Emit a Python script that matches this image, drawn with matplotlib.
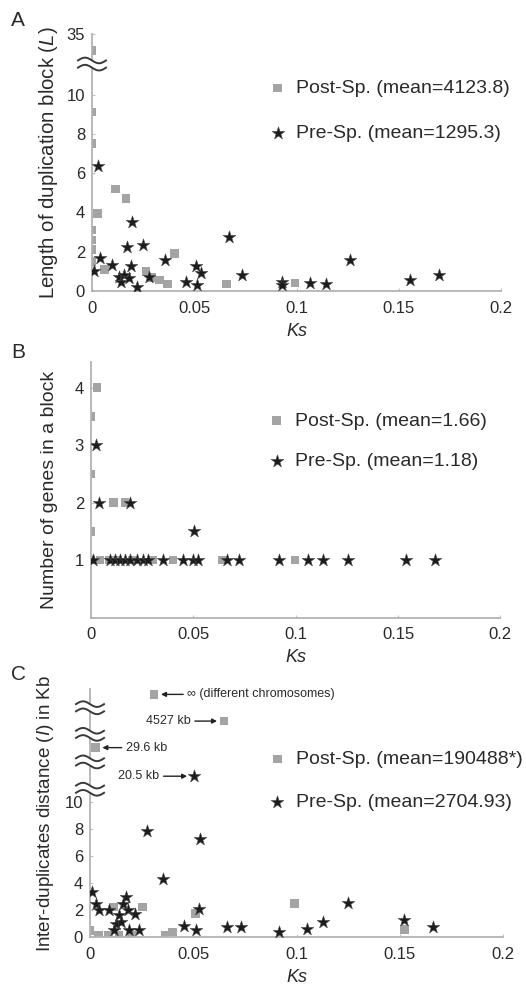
import numpy as np
import matplotlib
matplotlib.use("Agg")
import matplotlib.pyplot as plt
from matplotlib.lines import Line2D
from matplotlib.patches import Polygon
from matplotlib.transforms import ScaledTranslation

plt.rcParams["font.family"] = ["Liberation Sans", "DejaVu Sans"]
plt.rcParams["mathtext.fontset"] = "custom"
plt.rcParams["mathtext.it"] = "Liberation Sans:italic"
plt.rcParams["mathtext.rm"] = "Liberation Sans"

# ----------------------------
# Data
# ----------------------------

# Panel A : length of duplication block
post_ks_A = [0, 0, 0, 0.0026, 0, 0, 0, 0, 0.006, 0.0116, 0.0166, 0.0403, 0.0264,
             0.029, 0.033, 0.037, 0.0657, 0.0993]
post_L_A = [28, 9.1, 7.5, 3.95, 3.1, 2.6, 2.1, 1.5, 1.1, 5.2, 4.7, 1.92, 0.98,
            0.7, 0.56, 0.36, 0.36, 0.4]

pre_ks_A = [0.003, 0.0038, 0.001, 0.010, 0.0133, 0.0141, 0.0157, 0.0182, 0.019,
            0.0173, 0.0247, 0.0198, 0.0222, 0.028, 0.0359, 0.046, 0.0507, 0.0532,
            0.0515, 0.067, 0.0734, 0.0927, 0.093, 0.1066, 0.1145, 0.1263, 0.1554,
            0.1697]
pre_L_A = [6.35, 1.66, 1.03, 1.32, 0.73, 0.47, 0.81, 0.65, 1.27, 2.25, 2.34,
           3.53, 0.19, 0.73, 1.58, 0.47, 1.27, 0.9, 0.3, 2.76, 0.81, 0.47, 0.3,
           0.42, 0.36, 1.58, 0.56, 0.81]

# Panel B : number of genes in a block
post_ks_B = [0, 0, 0, 0.003, 0.011, 0.0166, 0, 0.0045, 0.009, 0.013, 0.02,
             0.03, 0.040, 0.064, 0.0996]
post_n_B = [1.5, 2.5, 3.5, 4, 2, 2, 1, 1, 1, 1, 1, 1, 1, 1, 1]

pre_ks_B = [0.0025, 0.004, 0.0191, 0.0505, 0.0012, 0.0094, 0.0118, 0.0142,
            0.0167, 0.0191, 0.0224, 0.0256, 0.028, 0.035, 0.0451, 0.050, 0.0524,
            0.0663, 0.0724, 0.092, 0.106, 0.1134, 0.1256, 0.1538, 0.1679]
pre_n_B = [3, 2, 2, 1.5, 1, 1, 1, 1, 1, 1, 1, 1, 1, 1, 1, 1, 1, 1, 1, 1, 1, 1,
           1, 1, 1]

# Panel C : inter-duplicates distance (kb); inf = different chromosomes
post_ks_C = [0.031, 0.0649, 0.0026, 0.0254, 0.0113, 0.0512, 0.0364, 0.040,
             0.099, 0.1523, 0, 0.004, 0.009, 0.014, 0.02]
post_d_C = [np.inf, 4527, 29.6, 2.22, 2.22, 1.73, 0.12, 0.37, 2.47, 0.55, 0.5,
            0.1, 0.1, 0.1, 0.1]

pre_ks_C = [0.0504, 0.0274, 0.0531, 0.0354, 0.0008, 0.0029, 0.0045, 0.0093,
            0.0174, 0.0158, 0.0142, 0.0182, 0.0219, 0.0126, 0.0117, 0.019,
            0.0238, 0.015, 0.0528, 0.0456, 0.0512, 0.0665, 0.073, 0.0915,
            0.1051, 0.1127, 0.1248, 0.1523, 0.1663]
pre_d_C = [20.5, 7.83, 7.24, 4.32, 3.33, 2.47, 1.98, 1.98, 2.96, 2.47, 1.61,
           1.98, 1.73, 0.99, 0.5, 0.5, 0.5, 1.1, 2.1, 0.79, 0.5, 0.74, 0.74,
           0.37, 0.62, 1.11, 2.52, 1.24, 0.74]

ks_ticks = [0, 0.05, 0.1, 0.15, 0.2]
ks_ticklabels = ["0", "0.05", "0.1", "0.15", "0.2"]

legend_A = ["Post-Sp. (mean=4123.8)", "Pre-Sp. (mean=1295.3)"]
legend_B = ["Post-Sp. (mean=1.66)", "Pre-Sp. (mean=1.18)"]
legend_C = ["Post-Sp. (mean=190488*)", "Pre-Sp. (mean=2704.93)"]

# broken y axes: value -> position on the axis
breaks_A_vals = [0, 10, 35]
breaks_A_pos = [0, 10, 13.1]
INF_C = 1e6  # where "infinite" distance sits on the broken axis
breaks_C_vals = [0, 10, 20.5, 29.6, 4527, INF_C, 2 * INF_C]
breaks_C_pos = [0, 10, 11.93, 14.05, 16.02, 18.0, 18.4]

SQ_COLOR = "#a4a4a4"
STAR_COLOR = "#1c1c1c"
TXT = "#2a2a2a"


def piecewise(vals, pos):
    vals = np.asarray(vals, float)
    pos = np.asarray(pos, float)

    def fwd(v):
        return np.interp(np.asarray(v, float), vals, pos)

    def inv(p):
        return np.interp(np.asarray(p, float), pos, vals)

    return fwd, inv


fig = plt.figure(figsize=(5.26, 9.85), dpi=100)


def draw_break(ax, yval):
    # little double wave on the y axis
    tr = fig.dpi_scale_trans + ScaledTranslation(0, yval, ax.get_yaxis_transform())
    t = np.linspace(-0.14, 0.14, 60)
    w = -0.028 * np.sin(np.pi * t / 0.14)
    band = np.column_stack([np.r_[t, t[::-1]], np.r_[w + 0.036, (w - 0.036)[::-1]]])
    fig.add_artist(Polygon(band, closed=True, transform=tr, facecolor="white",
                           edgecolor="none", zorder=5))
    for off in (0.036, -0.036):
        fig.add_artist(Line2D(t, w + off, transform=tr, color="#3a3a3a", lw=1.4,
                              zorder=6))


def style_axes(ax):
    ax.spines[["top", "right"]].set_visible(False)
    for s in ("left", "bottom"):
        ax.spines[s].set_color("#b3b3b3")
        ax.spines[s].set_linewidth(1.3)
    ax.tick_params(axis="both", length=2, width=0.8, color="#c0c0c0",
                   labelcolor=TXT, labelsize=12, pad=5, direction="in")
    ax.tick_params(axis="x", pad=7)
    ax.set_xlim(0, 0.2)
    ax.set_xticks(ks_ticks)
    ax.set_xticklabels(ks_ticklabels)
    ax.set_xlabel("Ks", fontstyle="italic", fontsize=13, color=TXT, labelpad=5)


def plot_points(ax, xs_post, ys_post, xs_pre, ys_pre, labels, anchor, spacing):
    sq = ax.scatter(xs_post, ys_post, marker="s", s=38, color=SQ_COLOR,
                    edgecolors="none", zorder=2)
    st = ax.scatter(xs_pre, ys_pre, marker="*", s=92, facecolor=STAR_COLOR,
                    edgecolors="#4a4a4a", linewidths=0.4, zorder=3)
    leg = ax.legend([sq, st], labels, loc="center left", bbox_to_anchor=anchor,
                    frameon=False, fontsize=14, handlelength=1.0,
                    handletextpad=0.45, labelspacing=spacing, borderpad=0,
                    borderaxespad=0, scatterpoints=1)
    for txt in leg.get_texts():
        txt.set_color(TXT)


# ----------------------------
# Panel A
# ----------------------------

axA = fig.add_axes([92 / 526, 1 - 291 / 985, 409 / 526, 257.4 / 985])
fA, iA = piecewise(breaks_A_vals, breaks_A_pos)
axA.set_yscale("function", functions=(fA, iA))
plot_points(axA, post_ks_A, post_L_A, pre_ks_A, pre_L_A, legend_A, (0.43, 0.70), 1.4)
style_axes(axA)
axA.set_ylim(0, 35)
axA.set_yticks([0, 2, 4, 6, 8, 10, 35])
axA.set_ylabel("Length of duplication block ($L$)", fontsize=14.7, color=TXT, labelpad=5)
draw_break(axA, iA((breaks_A_pos[1] + breaks_A_pos[2]) / 2))

# ----------------------------
# Panel B
# ----------------------------

axB = fig.add_axes([91 / 526, 1 - 617.5 / 985, 409.4 / 526, 255.8 / 985])
plot_points(axB, post_ks_B, post_n_B, pre_ks_B, pre_n_B, legend_B, (0.43, 0.69), 1.15)
style_axes(axB)
axB.set_ylim(0, 4.45)
axB.set_yticks([1, 2, 3, 4])
axB.set_ylabel("Number of genes in a block", fontsize=14, color=TXT, labelpad=12)

# ----------------------------
# Panel C
# ----------------------------

axC = fig.add_axes([90 / 526, 1 - 937 / 985, 413 / 526, 248 / 985])
fC, iC = piecewise(breaks_C_vals, breaks_C_pos)
axC.set_yscale("function", functions=(fC, iC))
post_d_C_plot = np.where(np.isinf(post_d_C), INF_C, post_d_C)
plot_points(axC, post_ks_C, post_d_C_plot, pre_ks_C, pre_d_C, legend_C, (0.43, 0.63), 1.3)
style_axes(axC)
axC.set_ylim(0, breaks_C_vals[-1])
axC.set_yticks([0, 2, 4, 6, 8, 10])
axC.set_ylabel("Inter-duplicates distance ($I$) in Kb", fontsize=13.6, color=TXT, labelpad=6)
for k in range(1, 5):
    draw_break(axC, iC((breaks_C_pos[k] + breaks_C_pos[k + 1]) / 2))

arrow = dict(arrowstyle="-|>", color="#222222", lw=1.0, mutation_scale=7,
             shrinkA=1, shrinkB=5)
ann_kw = dict(textcoords="offset points", va="center", fontsize=9, color=TXT,
              arrowprops=arrow)
axC.annotate("\u221e (different chromosomes)", xy=(post_ks_C[0], post_d_C_plot[0]),
             xytext=(24, 0), ha="left", **ann_kw)
axC.annotate("4527 kb", xy=(post_ks_C[1], post_d_C_plot[1]), xytext=(-24, 0),
             ha="right", **ann_kw)
axC.annotate("29.6 kb", xy=(post_ks_C[2], post_d_C_plot[2]), xytext=(22, 0),
             ha="left", **ann_kw)
axC.annotate("20.5 kb", xy=(pre_ks_C[0], pre_d_C[0]), xytext=(-25, 0),
             ha="right", **ann_kw)

# panel letters
for letter, y in (("A", 21), ("B", 352), ("C", 675)):
    fig.text(18 / 526, 1 - y / 985, letter, fontsize=15, color=TXT,
             ha="center", va="center")

fig.savefig("out.png", dpi=100)
